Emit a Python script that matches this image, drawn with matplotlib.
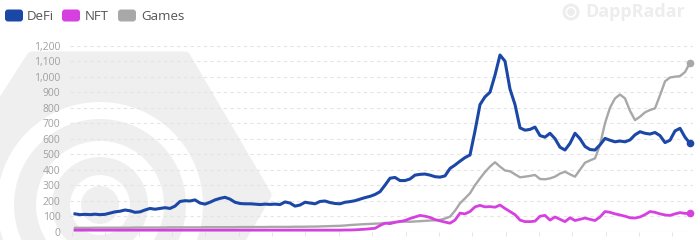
import numpy as np
import matplotlib
matplotlib.use("Agg")
import matplotlib.pyplot as plt
from matplotlib.patches import Polygon, Wedge, FancyBboxPatch, Circle

# ---------------- data ----------------
defi = [115, 110, 112, 110, 113, 110, 112, 120, 128, 132,
        140, 135, 125, 128, 140, 150, 145, 150, 155, 150,
        165, 195, 200, 198, 205, 185, 178, 190, 205, 215,
        222, 210, 190, 182, 180, 180, 178, 175, 178, 176,
        178, 175, 192, 185, 165, 172, 190, 185, 180, 195,
        198, 188, 182, 180, 190, 194, 200, 210, 220, 228,
        240, 258, 300, 345, 350, 330, 330, 340, 365, 370,
        372, 365, 355, 352, 360, 408, 430, 455, 478, 495,
        650, 820, 870, 900, 1010, 1140, 1100, 920, 820, 670,
        655, 660, 675, 620, 610, 635, 600, 545, 527, 570,
        635, 600, 550, 530, 527, 560, 602, 590, 580, 585,
        580, 592, 625, 645, 635, 630, 640, 620, 575, 590,
        650, 667, 610, 570]

games = [25, 25, 25, 25, 26, 26, 26, 26, 26, 26,
         26, 26, 27, 27, 27, 27, 27, 27, 27, 28,
         28, 28, 28, 28, 28, 28, 29, 29, 29, 29,
         29, 29, 29, 30, 30, 30, 30, 30, 30, 31,
         31, 31, 31, 31, 32, 32, 32, 33, 33, 34,
         35, 36, 37, 38, 40, 43, 45, 47, 49, 50,
         52, 53, 55, 60, 63, 65, 65, 64, 66, 68,
         70, 72, 74, 76, 85, 97, 135, 183, 215, 248,
         300, 344, 385, 420, 448, 420, 395, 390, 370, 351,
         355, 360, 366, 340, 338, 344, 355, 375, 387, 370,
         355, 400, 445, 460, 473, 560, 700, 800, 860, 885,
         860, 780, 720, 742, 770, 785, 796, 880, 970, 995,
         1000, 1004, 1030, 1090]

nft = [10, 10, 10, 10, 10, 10, 10, 10, 10, 10,
       10, 10, 10, 10, 10, 10, 10, 10, 10, 10,
       10, 10, 10, 10, 10, 10, 10, 10, 10, 10,
       10, 10, 10, 10, 10, 10, 10, 10, 10, 10,
       10, 10, 10, 10, 10, 10, 10, 10, 10, 10,
       10, 10, 10, 10, 11, 11, 12, 14, 16, 19,
       22, 40, 55, 52, 60, 66, 72, 85, 95, 105,
       100, 92, 78, 70, 62, 55, 75, 120, 115, 130,
       160, 170, 160, 162, 158, 172, 150, 130, 110, 75,
       65, 65, 68, 100, 105, 75, 95, 80, 65, 90,
       72, 80, 88, 80, 72, 95, 130, 125, 115, 108,
       100, 90, 88, 95, 110, 130, 125, 115, 108, 105,
       115, 123, 118, 118]

series_names = ["DeFi", "NFT", "Games"]
colors = {"DeFi": "#1b48a6", "NFT": "#d63fe0", "Games": "#a8a8a8"}
yticks = [0, 100, 200, 300, 400, 500, 600, 700, 800, 900, 1000, 1100, 1200]

plt.rcParams['font.family'] = ['Open Sans', 'DejaVu Sans']

fig = plt.figure(figsize=(7, 2.4), dpi=100)
fig.patch.set_facecolor("white")

# ---------------- background watermark (pixel coords) ----------------
bg = fig.add_axes([0, 0, 1, 1], zorder=0)
bg.set_xlim(0, 700)
bg.set_ylim(240, 0)
bg.axis("off")
wm = "#efefef"
hexagon = Polygon([(-60, 200), (32, 57), (185, 57), (266, 195), (185, 333), (32, 333)],
                  closed=True, facecolor=wm, edgecolor=wm, lw=8, joinstyle="round")
bg.add_patch(hexagon)
cx, cy = 100, 205
for r, w in [(103, 17), (64, 16), (30, 11)]:
    wdg = Wedge((cx, cy), r, 0, 360, width=w, facecolor="white", edgecolor="none")
    bg.add_patch(wdg)
    wdg.set_clip_path(hexagon)

# DappRadar logo (faint)
bg.add_patch(Circle((571, 12), 8.5, facecolor="#ededed", edgecolor="none"))
bg.add_patch(Wedge((571, 12), 5.5, 0, 360, width=1.6, facecolor="white", edgecolor="none"))
bg.text(585, 12, "DappRadar", fontsize=13, fontweight="bold", color="#ededed",
        va="center", ha="left")

# Legend
leg_items = [("DeFi", 5, 27), ("NFT", 62, 85), ("Games", 118, 141)]
for name, bx, tx in leg_items:
    bg.add_patch(FancyBboxPatch((bx + 2, 11.5), 14, 8, boxstyle="round,pad=2,rounding_size=3",
                                facecolor=colors[name], edgecolor="none"))
    bg.text(tx, 16, name, fontsize=9.5, color="#555555", va="center", ha="left")

# ---------------- main axes ----------------
ax = fig.add_axes([70 / 700, (240 - 231.7) / 240, 623 / 700, 186 / 240], zorder=1)
ax.set_facecolor("none")
x = np.arange(len(defi))
ax.set_xlim(-1.0, 123.6)
ax.set_ylim(0, 1200)

for yv in yticks[1:]:
    ax.axhline(yv, color="#e4e4e4", lw=0.8, ls=(0, (3, 3)), zorder=0)
ax.axhline(0, color="#e6e6e6", lw=0.8, zorder=0)

data = {"DeFi": defi, "NFT": nft, "Games": games}
lws = {"DeFi": 2.2, "NFT": 2.0, "Games": 1.7}
for name in ["Games", "NFT", "DeFi"]:
    vals = data[name]
    ax.plot(x, vals, color=colors[name], lw=lws[name], solid_joinstyle="round",
            clip_on=False, zorder=3)
    ax.plot(x[-1:], vals[-1:], "o", color=colors[name], ms=4.5, clip_on=False, zorder=4)

ax.set_yticks(yticks)
ax.set_yticklabels([f"{v:,}" for v in yticks])
ax.tick_params(axis="y", length=0, pad=7, labelsize=7.5, labelcolor="#a0a0a0")
ax.set_xticks(np.arange(-0.6, 124, 6.67))
ax.set_xticklabels([])
ax.tick_params(axis="x", length=3, width=0.6, color="#e0e0e0", direction="out")
for s in ax.spines.values():
    s.set_visible(False)

fig.savefig("out.png", dpi=100, facecolor="white")
